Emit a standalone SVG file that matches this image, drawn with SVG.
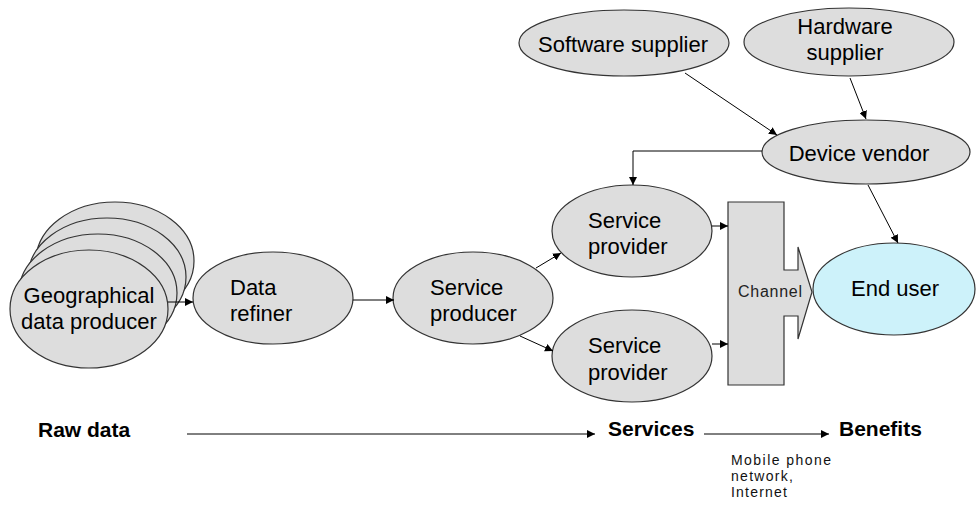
<svg xmlns="http://www.w3.org/2000/svg" width="976" height="506" viewBox="0 0 976 506">
  <defs>
    <marker id="arrow" viewBox="0 0 10 10" refX="10" refY="5" markerWidth="8" markerHeight="8" markerUnits="userSpaceOnUse" orient="auto">
      <path d="M0,0 L10,5 L0,10 z" fill="#000"/>
    </marker>
    <style>
      .node { fill: #dddddd; stroke: #333; stroke-width: 1.2; }
      .user { fill: #cdf2fa; stroke: #333; stroke-width: 1.2; }
      .lbl { font-family: "Liberation Sans", Arial, sans-serif; font-size: 22px; fill: #000; }
      .mid { text-anchor: middle; }
      .stage { font-family: "Liberation Sans", Arial, sans-serif; font-size: 21px; font-weight: bold; fill: #000; }
      .small { font-family: "Liberation Sans", Arial, sans-serif; font-size: 14px; fill: #111; }
      .chan { font-family: "Liberation Sans", Arial, sans-serif; font-size: 16px; fill: #222; }
      .conn { fill: none; stroke: #000; stroke-width: 1; marker-end: url(#arrow); }
    </style>
  </defs>
  <rect width="976" height="506" fill="#fff"/>

  <!-- stacked producers -->
  <g id="geo">
    <ellipse class="node" cx="115" cy="261" rx="79" ry="59"/>
    <ellipse class="node" cx="107" cy="277" rx="79" ry="59"/>
    <ellipse class="node" cx="98" cy="293" rx="79" ry="59"/>
    <ellipse class="node" cx="89" cy="309" rx="79" ry="59"/>
    <text class="lbl mid" x="89" y="303">Geographical</text>
    <text class="lbl mid" x="89" y="329">data producer</text>
  </g>

  <g id="refiner">
    <ellipse class="node" cx="273" cy="298" rx="80" ry="46"/>
    <text class="lbl" x="230" y="295">Data</text>
    <text class="lbl" x="230" y="321">refiner</text>
  </g>

  <g id="producer">
    <ellipse class="node" cx="473" cy="298" rx="80" ry="46"/>
    <text class="lbl" x="430" y="295">Service</text>
    <text class="lbl" x="430" y="321">producer</text>
  </g>

  <g id="provider1">
    <ellipse class="node" cx="632" cy="231" rx="80" ry="46"/>
    <text class="lbl" x="588" y="228">Service</text>
    <text class="lbl" x="588" y="254">provider</text>
  </g>

  <g id="provider2">
    <ellipse class="node" cx="632" cy="356" rx="80" ry="46"/>
    <text class="lbl" x="588" y="353">Service</text>
    <text class="lbl" x="588" y="380">provider</text>
  </g>

  <g id="channel">
    <path class="node" d="M728,202 H784 V270 H798 V247 L812,292 L798,339 V316 H784 V385 H728 Z"/>
    <text class="chan" x="738" y="297" textLength="64" lengthAdjust="spacing">Channel</text>
  </g>

  <g id="enduser">
    <ellipse class="user" cx="894" cy="289" rx="81" ry="46"/>
    <text class="lbl mid" x="895" y="296">End user</text>
  </g>

  <g id="software">
    <ellipse class="node" cx="624" cy="43" rx="105" ry="33"/>
    <text class="lbl mid" x="623" y="52">Software supplier</text>
  </g>

  <g id="hardware">
    <ellipse class="node" cx="849" cy="42" rx="105" ry="34"/>
    <text class="lbl mid" x="845" y="34">Hardware</text>
    <text class="lbl mid" x="845" y="60">supplier</text>
  </g>

  <g id="vendor">
    <ellipse class="node" cx="866" cy="152" rx="104" ry="32"/>
    <text class="lbl mid" x="859" y="161">Device vendor</text>
  </g>

  <!-- value chain labels -->
  <g id="stages">
    <text class="stage" x="38" y="437">Raw data</text>
    <text class="stage" x="608" y="436">Services</text>
    <text class="stage" x="839" y="436">Benefits</text>
    <text class="small" x="731" y="465" textLength="100" lengthAdjust="spacing">Mobile phone</text>
    <text class="small" x="731" y="481" textLength="62" lengthAdjust="spacing">network,</text>
    <text class="small" x="731" y="497" textLength="56" lengthAdjust="spacing">Internet</text>
  </g>

  <g id="connectors">
    <line class="conn" x1="168" y1="302" x2="193" y2="302"/>
    <line class="conn" x1="353" y1="300" x2="394" y2="300"/>
    <line class="conn" x1="536" y1="268" x2="561" y2="253"/>
    <line class="conn" x1="520" y1="336" x2="553" y2="351"/>
    <line class="conn" x1="712" y1="226" x2="728" y2="226"/>
    <line class="conn" x1="712" y1="344" x2="728" y2="344"/>
    <line class="conn" x1="685" y1="73" x2="777" y2="135"/>
    <line class="conn" x1="850" y1="78" x2="866" y2="119"/>
    <polyline class="conn" points="762,151 633,151 633,185"/>
    <line class="conn" x1="868" y1="185" x2="898" y2="243"/>
    <line class="conn" x1="187" y1="434" x2="595" y2="434"/>
    <line class="conn" x1="704" y1="434" x2="829" y2="434"/>
  </g>
</svg>
